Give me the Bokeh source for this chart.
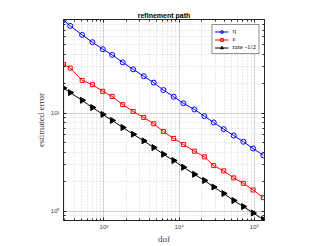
import math
from bokeh.plotting import figure
from bokeh.models import (Range1d, FixedTicker, LogAxis, CustomJSTickFormatter,
                          Legend, LegendItem, ColumnDataSource)
from bokeh.embed import file_html
from bokeh.resources import INLINE

# ---- data ----
dof = [290, 356, 513, 703, 964, 1285, 1777, 2444, 3378, 4584, 6166, 8451,
       11370, 15920, 21620, 28730, 39000, 52970, 71280, 95800, 131300]
eta = [89.1, 77.8, 62.9, 53.0, 44.9, 39.3, 33.0, 28.0, 23.8, 20.5, 17.2, 14.7,
       12.6, 10.9, 9.31, 8.03, 6.86, 5.91, 5.10, 4.35, 3.71]
eps = [31.3, 28.9, 21.6, 19.5, 16.7, 14.8, 12.2, 10.4, 9.03, 7.78, 6.50, 5.51,
       4.78, 4.08, 3.57, 2.91, 2.57, 2.18, 1.92, 1.64, 1.37]
rate = [18.0, 16.2, 13.5, 11.4, 9.70, 8.42, 7.13, 6.09, 5.21, 4.45, 3.80, 3.28,
        2.80, 2.37, 2.05, 1.76, 1.51, 1.28, 1.11, 0.955, 0.82]
labels = ["\u03b7", "\u03b5", "rate -1/2"]
x_major = [1e3, 1e4, 1e5]
y_major = [1e0, 1e1]
x_minor = [m * 10 ** k for k in range(2, 6) for m in range(1, 10)]
y_minor = [m * 10 ** k for k in range(-1, 2) for m in range(1, 10)]
title_text = "refinement path"
xlabel = "dof"
ylabel = "estimated error"

AX = "#262626"
SERIF = "Liberation Serif"
SANS = "Liberation Sans"

p = figure(x_axis_type="log", y_axis_type="log",
           x_range=Range1d(290, 136000), y_range=Range1d(0.80, 90.4),
           frame_width=201, frame_height=201,
           min_border_left=63, min_border_right=44, min_border_top=19,
           min_border_bottom=24,
           output_backend="svg", toolbar_location=None)
p.background_fill_color = "white"
p.border_fill_color = "white"
p.outline_line_color = AX
p.outline_line_width = 1

p.title.text = title_text
p.title.align = "center"
p.title.text_font = SANS
p.title.text_font_size = "7px"
p.title.text_font_style = "bold"
p.title.text_color = "black"
p.title.standoff = 1
p.title.offset = 0

fmt = CustomJSTickFormatter(code="""
const sup = {'0':'\u2070','1':'\u00b9','2':'\u00b2','3':'\u00b3','4':'\u2074',
             '5':'\u2075','6':'\u2076','7':'\u2077','8':'\u2078','9':'\u2079','-':'\u207b'};
const e = Math.round(Math.log10(tick));
return '10' + String(e).split('').map(c => sup[c]).join('');
""")

xt = FixedTicker(ticks=x_major, minor_ticks=x_minor)
yt = FixedTicker(ticks=y_major, minor_ticks=y_minor)


def style_axis(ax, show):
    ax.major_tick_in = 3
    ax.major_tick_out = 0
    ax.minor_tick_in = 2
    ax.minor_tick_out = 0
    ax.axis_line_color = AX
    ax.major_tick_line_color = AX
    ax.minor_tick_line_color = AX
    if show:
        ax.formatter = fmt
        ax.major_label_text_font = SANS
        ax.major_label_text_font_size = "6px"
        ax.major_label_text_color = "#404040"
        ax.axis_label_text_font = SERIF
        ax.axis_label_text_font_size = "9px"
        ax.axis_label_text_font_style = "normal"
        ax.axis_label_text_color = "#404040"
    else:
        ax.major_label_text_font_size = "1px"
        ax.major_label_text_alpha = 0
        ax.major_label_standoff = 0


xa = p.xaxis[0]
ya = p.yaxis[0]
xa.ticker = xt
ya.ticker = yt
style_axis(xa, True)
style_axis(ya, True)
xa.axis_label = xlabel
ya.axis_label = ylabel
xa.major_label_standoff = 3
xa.axis_label_standoff = 1
ya.major_label_standoff = 4
ya.axis_label_standoff = 2

top = LogAxis(ticker=xt)
right = LogAxis(ticker=yt)
style_axis(top, False)
style_axis(right, False)
p.add_layout(top, "above")
p.add_layout(right, "right")

for g, t in ((p.xgrid[0], xt), (p.ygrid[0], yt)):
    g.ticker = t
    g.grid_line_color = AX
    g.grid_line_alpha = 0.15
    g.minor_grid_line_color = AX
    g.minor_grid_line_alpha = 0.2
    g.minor_grid_line_dash = "1 2"

src = ColumnDataSource(dict(dof=dof, eta=eta, eps=eps, rate=rate))

l1 = p.line("dof", "eta", source=src, line_color="blue", line_width=1)
m1 = p.scatter("dof", "eta", source=src, marker="circle", size=5,
               line_color="blue", fill_color=None, line_width=1)
l2 = p.line("dof", "eps", source=src, line_color="red", line_width=1)
m2 = p.scatter("dof", "eps", source=src, marker="square", size=4,
               line_color="red", fill_color=None, line_width=1)
l3 = p.line("dof", "rate", source=src, line_color="black", line_width=1)
m3 = p.scatter("dof", "rate", source=src, marker="triangle", size=6,
               angle=-math.pi / 2, line_color="black", fill_color="black")

legend = Legend(items=[LegendItem(label=labels[0], renderers=[l1, m1]),
                       LegendItem(label=labels[1], renderers=[l2, m2]),
                       LegendItem(label=labels[2], renderers=[l3, m3])],
                location="top_right")
legend.margin = 5
legend.padding = 2
legend.spacing = 0
legend.glyph_width = 14
legend.glyph_height = 7
legend.label_height = 7
legend.label_standoff = 4
legend.label_text_font = SERIF
legend.label_text_font_size = "7px"
legend.label_text_color = "black"
legend.border_line_color = AX
legend.border_line_width = 1
legend.background_fill_color = "white"
legend.background_fill_alpha = 1
p.add_layout(legend, "center")

open("out.html", "w").write(file_html(p, INLINE))
